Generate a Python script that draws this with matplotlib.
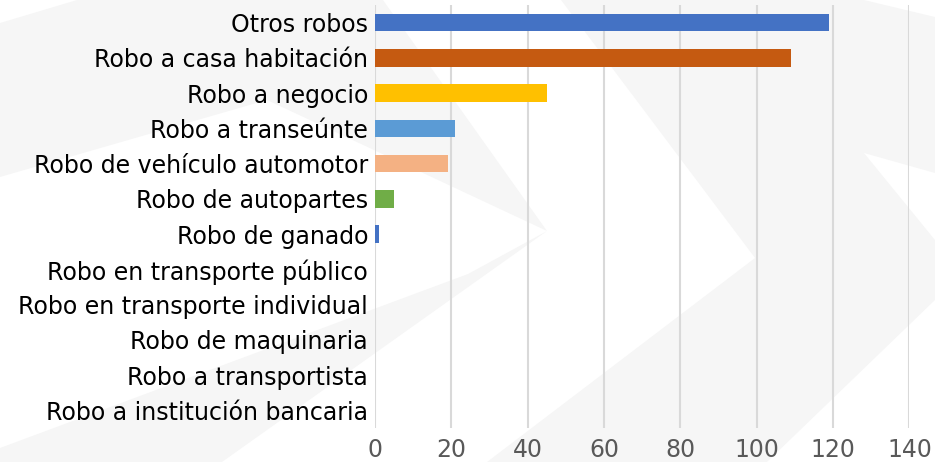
import matplotlib
matplotlib.use("Agg")
import matplotlib.pyplot as plt
from matplotlib.patches import Polygon

plt.rcParams["font.family"] = ["DejaVu Sans"]

# data (top to bottom, as in the chart)
categorias = [
    "Otros robos",
    "Robo a casa habitación",
    "Robo a negocio",
    "Robo a transeúnte",
    "Robo de vehículo automotor",
    "Robo de autopartes",
    "Robo de ganado",
    "Robo en transporte público",
    "Robo en transporte individual",
    "Robo de maquinaria",
    "Robo a transportista",
    "Robo a institución bancaria",
]
valores = [119, 109, 45, 21, 19, 5, 1, 0, 0, 0, 0, 0]
colores = ["#4472C4", "#C55A11", "#FFC000", "#5B9BD5", "#F4B183", "#70AD47",
           "#4472C4", "#4472C4", "#4472C4", "#4472C4", "#4472C4", "#4472C4"]
x_ticks = [0, 20, 40, 60, 80, 100, 120, 140]

W, H = 935, 462
fig = plt.figure(figsize=(W / 100, H / 100), dpi=100)
fig.patch.set_facecolor("white")

# faint chevron watermark in the background (pixel coords, from top-left)
def px(points):
    return [(x / W, 1 - y / H) for x, y in points]

fondo = "#f6f6f6"
marcas = [
    [(0, 23), (77, 0), (383, 0), (547, 231), (267, 100), (0, 177)],
    [(0, 448), (468, 274), (547, 231), (222, 462), (0, 462)],
    [(561, 0), (864, 0), (935, 17), (935, 173), (864, 153), (935, 240),
     (935, 300), (767, 462), (487, 462), (755, 258)],
]
for m in marcas:
    fig.add_artist(Polygon(px(m), closed=True, transform=fig.transFigure,
                           facecolor=fondo, edgecolor="none", zorder=0))

ax = fig.add_axes([375 / W, 1 - 428 / H, (909.5 - 375) / W, (428 - 5) / H])
ax.set_facecolor("none")

pos = list(range(len(categorias)))
ax.barh(pos, valores, height=0.5, color=colores, zorder=3)

ax.set_xlim(0, 140)
ax.set_ylim(len(categorias) - 0.5, -0.5)
ax.set_xticks(x_ticks)
ax.set_yticks(pos)
ax.set_yticklabels(categorias, fontsize=17, color="black")
ax.tick_params(axis="x", length=0, pad=7, labelsize=17, labelcolor="#595959")
ax.tick_params(axis="y", length=0, pad=5)

ax.grid(axis="x", color="#d9d9d9", linewidth=1.5, zorder=0)
ax.set_axisbelow(True)
for s in ax.spines.values():
    s.set_visible(False)

plt.savefig("out.png", dpi=100)
